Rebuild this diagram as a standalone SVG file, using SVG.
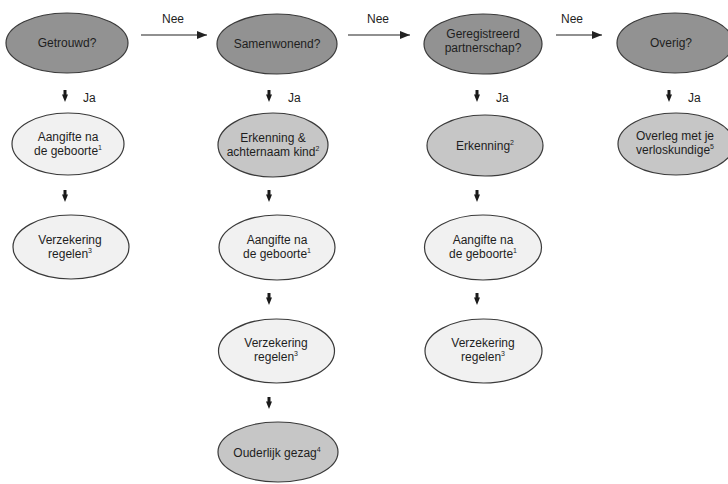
<svg xmlns="http://www.w3.org/2000/svg" width="728" height="484" viewBox="0 0 728 484">
<defs>
<style>
.n{stroke:#3a3a3a;stroke-width:1.2}
.dark{fill:#929292}
.mid{fill:#c6c6c6}
.light{fill:#f1f1f1}
text{font-family:"Liberation Sans",Arial,sans-serif;font-size:12px;fill:#1e1e1e;text-anchor:middle}
.lbl{text-anchor:start}
.sup{font-size:7px}
.ln{stroke:#222;stroke-width:1.2;fill:none}
</style>
<marker id="arr" viewBox="0 0 10 8" refX="10" refY="4" markerWidth="10" markerHeight="8" markerUnits="userSpaceOnUse" orient="auto">
<path d="M0,0 L10,4 L0,8 Z" fill="#222"/>
</marker>
<g id="down">
<path d="M0,-6 V-1" stroke="#1a1a1a" stroke-width="3"/>
<path d="M-3,-1.5 L3,-1.5 L0,6 Z" fill="#1a1a1a"/>
</g>
</defs>
<rect width="728" height="484" fill="#fff"/>

<g id="connectors">
<line class="ln" x1="141" y1="35" x2="207" y2="35" marker-end="url(#arr)"/>
<line class="ln" x1="348" y1="35" x2="410" y2="35" marker-end="url(#arr)"/>
<line class="ln" x1="556" y1="35" x2="602" y2="35" marker-end="url(#arr)"/>
<text x="173" y="23">Nee</text>
<text x="378" y="23">Nee</text>
<text x="572" y="23">Nee</text>
<use href="#down" x="65" y="96"/>
<use href="#down" x="269" y="96"/>
<use href="#down" x="477" y="96"/>
<use href="#down" x="669" y="96"/>
<text class="lbl" x="83" y="102">Ja</text>
<text class="lbl" x="288" y="102">Ja</text>
<text class="lbl" x="496" y="102">Ja</text>
<text class="lbl" x="688" y="102">Ja</text>
<use href="#down" x="65" y="196"/>
<use href="#down" x="269" y="196"/>
<use href="#down" x="477" y="196"/>
<use href="#down" x="269" y="299"/>
<use href="#down" x="477" y="299"/>
<use href="#down" x="269" y="403"/>
</g>

<g id="getrouwd"><ellipse class="n dark" cx="67" cy="43" rx="61" ry="30"/><text x="67" y="47">Getrouwd?</text></g>
<g id="samenwonend"><ellipse class="n dark" cx="277" cy="44" rx="60" ry="30"/><text x="277" y="48">Samenwonend?</text></g>
<g id="geregistreerd"><ellipse class="n dark" cx="483" cy="44" rx="59" ry="30"/><text x="483" y="38">Geregistreerd</text><text x="483" y="52">partnerschap?</text></g>
<g id="overig"><ellipse class="n dark" cx="675" cy="43" rx="58" ry="30"/><text x="671" y="47">Overig?</text></g>

<g id="aangifte1"><ellipse class="n light" cx="68" cy="144" rx="56" ry="31"/><text x="68" y="141">Aangifte na</text><text x="68" y="155">de geboorte<tspan class="sup" dy="-5">1</tspan></text></g>
<g id="verzekering1"><ellipse class="n light" cx="71" cy="247" rx="58" ry="32"/><text x="70" y="244">Verzekering</text><text x="70" y="258">regelen<tspan class="sup" dy="-5">3</tspan></text></g>

<g id="erkenning-achternaam"><ellipse class="n mid" cx="273" cy="145" rx="55" ry="32"/><text x="273" y="142">Erkenning &amp;</text><text x="273" y="156">achternaam kind<tspan class="sup" dy="-5">2</tspan></text></g>
<g id="aangifte2"><ellipse class="n light" cx="277" cy="247.5" rx="58" ry="32.5"/><text x="277" y="244">Aangifte na</text><text x="277" y="258">de geboorte<tspan class="sup" dy="-5">1</tspan></text></g>
<g id="verzekering2"><ellipse class="n light" cx="276.5" cy="351" rx="58" ry="32"/><text x="276" y="347">Verzekering</text><text x="276" y="361">regelen<tspan class="sup" dy="-5">3</tspan></text></g>
<g id="ouderlijk"><ellipse class="n mid" cx="278" cy="452" rx="60" ry="30"/><text x="277" y="457">Ouderlijk gezag<tspan class="sup" dy="-5">4</tspan></text></g>

<g id="erkenning"><ellipse class="n mid" cx="485" cy="145.5" rx="58" ry="30.5"/><text x="485" y="150">Erkenning<tspan class="sup" dy="-5">2</tspan></text></g>
<g id="aangifte3"><ellipse class="n light" cx="483" cy="247.5" rx="58.5" ry="32.5"/><text x="483" y="244">Aangifte na</text><text x="483" y="258">de geboorte<tspan class="sup" dy="-5">1</tspan></text></g>
<g id="verzekering3"><ellipse class="n light" cx="483.5" cy="351" rx="58.5" ry="32"/><text x="483" y="347">Verzekering</text><text x="483" y="361">regelen<tspan class="sup" dy="-5">3</tspan></text></g>

<g id="overleg"><ellipse class="n mid" cx="676" cy="144" rx="58" ry="31"/><text x="675" y="140">Overleg met je</text><text x="675" y="154">verloskundige<tspan class="sup" dy="-5">5</tspan></text></g>
</svg>
